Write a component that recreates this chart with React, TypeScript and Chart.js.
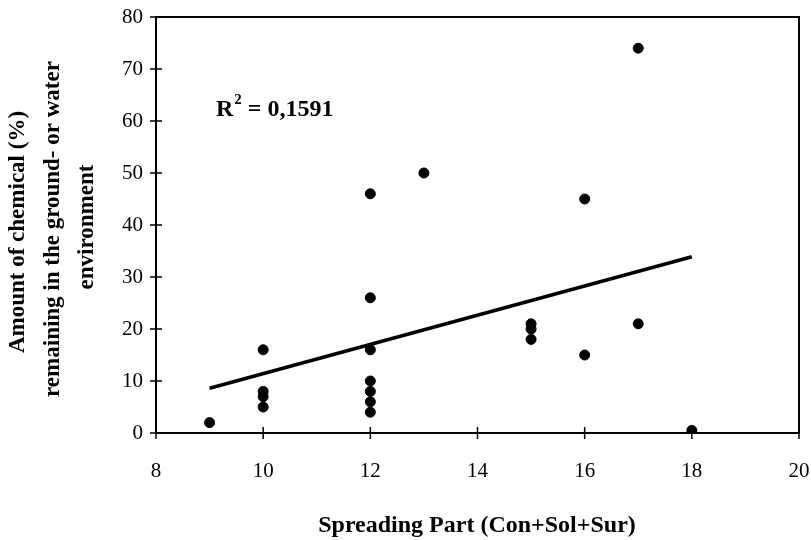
import React, { useEffect, useRef } from "react";
import { Chart, registerables } from "chart.js";

Chart.register(...registerables);

const spreadingPart = [9, 10, 10, 10, 10, 12, 12, 12, 12, 12, 12, 12, 13, 15, 15, 15, 16, 16, 17, 17, 18];
const amountRemaining = [2, 16, 8, 7, 5, 46, 26, 16, 10, 8, 6, 4, 50, 21, 20, 18, 45, 15, 74, 21, 0.5];
const trendX = [9, 18];
const trendY = [8.6, 33.9];
const xRange = [8, 20];
const yRange = [0, 80];
const xStep = 2;
const yStep = 10;
const yTitleLines = ["Amount of chemical (%)", "remaining in the ground- or water", "environment"];
const xTitle = "Spreading Part (Con+Sol+Sur)";
const rSquaredLabel = "R";
const rSquaredValue = " = 0,1591";
const rSquaredPos = [9.12, 62.5];

const FONT = "'Liberation Serif', 'Times New Roman', serif";

export default function App() {
  const ref = useRef<HTMLCanvasElement | null>(null);

  useEffect(() => {
    if (!ref.current) return;

    const decor = {
      id: "decor",
      afterDraw(chart: any) {
        const ctx = chart.ctx;
        const { left, right, top, bottom } = chart.chartArea;
        const xs = chart.scales.x;
        const ys = chart.scales.y;
        ctx.save();
        ctx.strokeStyle = "#000";
        ctx.lineWidth = 2;
        ctx.strokeRect(left, top, right - left, bottom - top);
        ctx.lineWidth = 1.5;
        for (const t of xs.ticks) {
          const px = xs.getPixelForValue(t.value);
          ctx.beginPath();
          ctx.moveTo(px, bottom - 6);
          ctx.lineTo(px, bottom + 6);
          ctx.stroke();
        }
        for (const t of ys.ticks) {
          const py = ys.getPixelForValue(t.value);
          ctx.beginPath();
          ctx.moveTo(left - 6, py);
          ctx.lineTo(left + 6, py);
          ctx.stroke();
        }
        // Y title
        ctx.fillStyle = "#000";
        ctx.font = `bold 23px ${FONT}`;
        ctx.textAlign = "center";
        ctx.textBaseline = "middle";
        const xsPos = [18, 53, 87];
        const ycPos = [232, 229, 227];
        yTitleLines.forEach((line, i) => {
          ctx.save();
          ctx.translate(xsPos[i], ycPos[i]);
          ctx.rotate(-Math.PI / 2);
          ctx.fillText(line, 0, 0);
          ctx.restore();
        });
        // X title
        ctx.font = `bold 24px ${FONT}`;
        ctx.fillText(xTitle, 477, 526);
        // R squared
        const rx = xs.getPixelForValue(rSquaredPos[0]);
        const ry = ys.getPixelForValue(rSquaredPos[1]);
        ctx.textAlign = "left";
        ctx.textBaseline = "alphabetic";
        ctx.font = `bold 24px ${FONT}`;
        ctx.fillText(rSquaredLabel, rx, ry + 8);
        const w1 = ctx.measureText(rSquaredLabel).width;
        ctx.font = `bold 15px ${FONT}`;
        ctx.fillText("2", rx + w1 + 1, ry - 4);
        const w2 = ctx.measureText("2").width;
        ctx.font = `bold 24px ${FONT}`;
        ctx.fillText(rSquaredValue, rx + w1 + w2 + 1, ry + 8);
        ctx.restore();
      },
    };

    const chart = new Chart(ref.current, {
      type: "scatter",
      data: {
        datasets: [
          {
            label: "Trend",
            type: "line",
            data: trendX.map((x, i) => ({ x, y: trendY[i] })),
            borderColor: "#000",
            borderWidth: 3.5,
            pointRadius: 0,
            fill: false,
          } as any,
          {
            label: "Data",
            data: spreadingPart.map((x, i) => ({ x, y: amountRemaining[i] })),
            backgroundColor: "#000",
            borderColor: "#000",
            pointRadius: 5,
            pointHoverRadius: 5,
          },
        ],
      },
      options: {
        responsive: false,
        animation: false,
        events: [],
        layout: { padding: { top: 17, right: 12, left: 0, bottom: 0 } },
        plugins: {
          legend: { display: false },
          tooltip: { enabled: false },
        },
        scales: {
          x: {
            type: "linear",
            min: xRange[0],
            max: xRange[1],
            grid: { display: false, drawTicks: false },
            border: { display: false },
            ticks: {
              stepSize: xStep,
              color: "#000",
              font: { family: FONT, size: 21 },
              padding: 26,
              maxRotation: 0,
            },
            afterFit: (s: any) => {
              s.height = 107;
              s.paddingLeft = 0;
              s.paddingRight = 0;
            },
          },
          y: {
            type: "linear",
            min: yRange[0],
            max: yRange[1],
            grid: { display: false, drawTicks: false },
            border: { display: false },
            ticks: {
              stepSize: yStep,
              color: "#000",
              font: { family: FONT, size: 21 },
              padding: 13,
            },
            afterFit: (s: any) => {
              s.width = 156;
              s.paddingTop = 0;
              s.paddingBottom = 0;
            },
          },
        },
      },
      plugins: [decor],
    });
    return () => chart.destroy();
  }, []);

  return (
    <canvas
      ref={ref}
      width={811}
      height={540}
      style={{ position: "absolute", left: 0, top: 0, width: 811, height: 540 }}
    />
  );
}
